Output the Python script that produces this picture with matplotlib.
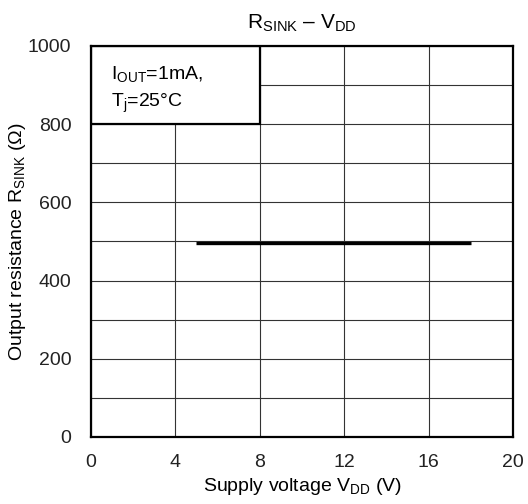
import matplotlib
matplotlib.use("Agg")
import matplotlib.pyplot as plt
from matplotlib.patches import Rectangle

plt.rcParams['font.family'] = ['Liberation Sans', 'DejaVu Sans']
plt.rcParams['mathtext.fontset'] = 'custom'
plt.rcParams['mathtext.rm'] = 'Liberation Sans'
plt.rcParams['mathtext.it'] = 'Liberation Sans'

# data
vdd = [5, 18]
r_sink = [495, 495]
x_ticks = [0, 4, 8, 12, 16, 20]
y_ticks = [0, 200, 400, 600, 800, 1000]
y_grid = list(range(0, 1001, 100))

fig = plt.figure(figsize=(5.28, 5.04), dpi=100)
ax = fig.add_axes([0.172, 0.133, 0.8, 0.776])

for yv in y_grid:
    ax.axhline(yv, color='#333333', lw=0.8, zorder=1)
for xv in x_ticks:
    ax.axvline(xv, color='#333333', lw=0.8, zorder=1)

ax.plot(vdd, r_sink, color='black', lw=2.4, solid_capstyle='butt', zorder=3)

# condition box in the upper-left corner
ax.add_patch(Rectangle((0, 800), 8, 200, facecolor='white', edgecolor='black',
                       lw=1.6, zorder=4))
ax.text(0.95, 916, r'I$_{\mathrm{OUT}}$=1mA,', fontsize=14, va='baseline', zorder=5)
ax.text(0.95, 844, r'T$_{\mathrm{j}}$=25°C', fontsize=14, va='baseline', zorder=5)

ax.set_xlim(0, 20)
ax.set_ylim(0, 1000)
ax.set_xticks(x_ticks)
ax.set_yticks(y_ticks)
ax.tick_params(axis='y', length=0, labelsize=14, pad=14, colors='#222222')
ax.tick_params(axis='x', length=0, labelsize=14, pad=12, colors='#222222')
for s in ax.spines.values():
    s.set_linewidth(1.6)
    s.set_zorder(6)

ax.set_title(r'R$_{\mathrm{SINK}}$ – V$_{\mathrm{DD}}$', fontsize=15, pad=12)
ax.set_xlabel(r'Supply voltage V$_{\mathrm{DD}}$ (V)', fontsize=14, labelpad=4)
ax.set_ylabel(r'Output resistance R$_{\mathrm{SINK}}$ (Ω)', fontsize=14, labelpad=0)

fig.savefig('out.png', dpi=100)
